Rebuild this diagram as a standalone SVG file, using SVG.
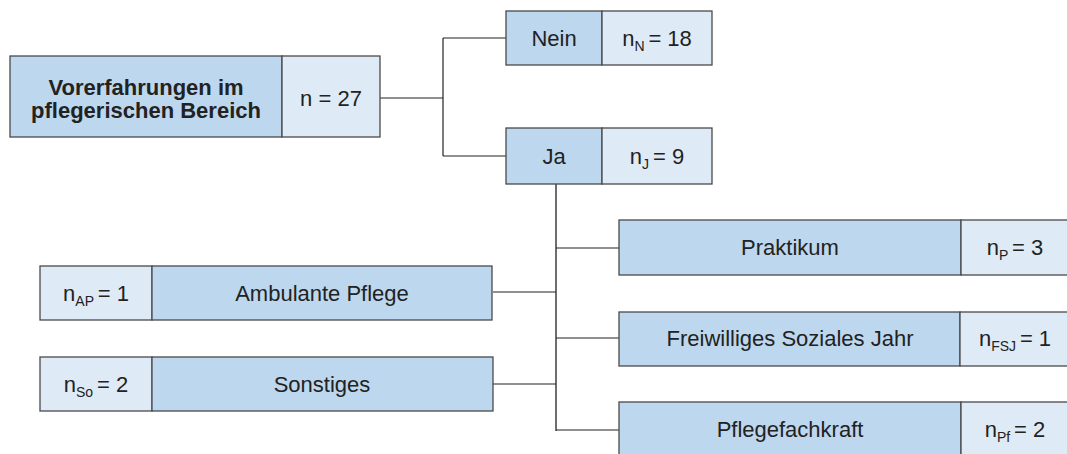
<svg xmlns="http://www.w3.org/2000/svg" width="1067" height="454" viewBox="0 0 1067 454">
  <style>
    .dark { fill: #bdd7ee; stroke: #4a4a4a; stroke-width: 1.3; }
    .light { fill: #deebf7; stroke: #4a4a4a; stroke-width: 1.3; }
    .t { font-family: "Liberation Sans", Arial, sans-serif; font-size: 22px; fill: #222222; text-anchor: middle; }
    .b { font-weight: bold; font-size: 22px; }
    .sub { font-size: 14px; }
    .wire { fill: none; stroke: #222222; stroke-width: 1.2; }
    .trunk { fill: none; stroke: #6e6e6e; stroke-width: 2; }
  </style>
  <rect width="1067" height="454" fill="#ffffff"/>

  <!-- connectors -->
  <g id="connectors">
    <path class="wire" d="M380,98 H443"/>
    <path class="wire" d="M443,38 V156"/>
    <path class="wire" d="M443,38 H506"/>
    <path class="wire" d="M443,156 H506"/>
    <path class="trunk" d="M556,184 V431"/>
    <path class="wire" d="M556,248 H619"/>
    <path class="wire" d="M556,338 H619"/>
    <path class="wire" d="M556,430 H619"/>
    <path class="wire" d="M493,292 H556"/>
    <path class="wire" d="M493,384 H556"/>
  </g>

  <!-- root -->
  <g id="node-root">
    <rect class="dark" x="10" y="56" width="272" height="81"/>
    <rect class="light" x="282" y="56" width="98" height="81"/>
    <text class="t b" x="146" y="94.5">Vorerfahrungen im</text>
    <text class="t b" x="146" y="118">pflegerischen Bereich</text>
    <text class="t" x="331" y="106">n = 27</text>
  </g>

  <g id="node-nein">
    <rect class="dark" x="506" y="11" width="96" height="54"/>
    <rect class="light" x="602" y="11" width="110" height="54"/>
    <text class="t" x="554" y="46">Nein</text>
    <text class="t" x="657" y="46">n<tspan class="sub" dy="5">N </tspan><tspan dy="-5">= 18</tspan></text>
  </g>

  <g id="node-ja">
    <rect class="dark" x="506" y="128" width="96" height="56"/>
    <rect class="light" x="602" y="128" width="110" height="56"/>
    <text class="t" x="554" y="164">Ja</text>
    <text class="t" x="657" y="164">n<tspan class="sub" dy="5">J </tspan><tspan dy="-5">= 9</tspan></text>
  </g>

  <g id="node-ambulant">
    <rect class="light" x="40" y="266" width="112" height="54"/>
    <rect class="dark" x="152" y="266" width="340" height="54"/>
    <text class="t" x="96" y="301">n<tspan class="sub" dy="5">AP </tspan><tspan dy="-5">= 1</tspan></text>
    <text class="t" x="322" y="301">Ambulante Pflege</text>
  </g>

  <g id="node-sonstiges">
    <rect class="light" x="40" y="357" width="112" height="54"/>
    <rect class="dark" x="152" y="357" width="341" height="54"/>
    <text class="t" x="96" y="392">n<tspan class="sub" dy="5">So </tspan><tspan dy="-5">= 2</tspan></text>
    <text class="t" x="322" y="392">Sonstiges</text>
  </g>

  <g id="node-praktikum">
    <rect class="dark" x="619" y="220" width="342" height="55"/>
    <rect class="light" x="961" y="220" width="108" height="55"/>
    <text class="t" x="790" y="255">Praktikum</text>
    <text class="t" x="1015" y="255">n<tspan class="sub" dy="5">P </tspan><tspan dy="-5">= 3</tspan></text>
  </g>

  <g id="node-fsj">
    <rect class="dark" x="619" y="312" width="341" height="54"/>
    <rect class="light" x="960" y="312" width="109" height="54"/>
    <text class="t" x="790" y="346">Freiwilliges Soziales Jahr</text>
    <text class="t" x="1015" y="346">n<tspan class="sub" dy="5">FSJ </tspan><tspan dy="-5">= 1</tspan></text>
  </g>

  <g id="node-pflegefachkraft">
    <rect class="dark" x="619" y="402" width="342" height="56"/>
    <rect class="light" x="961" y="402" width="108" height="56"/>
    <text class="t" x="790" y="437">Pflegefachkraft</text>
    <text class="t" x="1015" y="437">n<tspan class="sub" dy="5">Pf </tspan><tspan dy="-5">= 2</tspan></text>
  </g>
</svg>
